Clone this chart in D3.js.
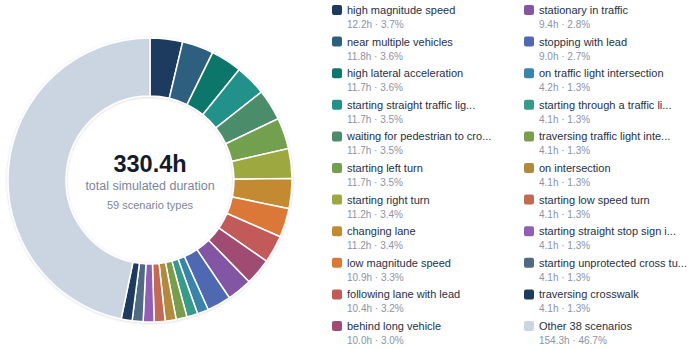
<!DOCTYPE html>
<html>
<head>
<meta charset="utf-8">
<script src="https://cdn.jsdelivr.net/npm/d3@7"></script>
<style>
  body { margin: 0; background: #fff; }
  svg { font-family: "Liberation Sans", Arial, sans-serif; display: block; }
</style>
</head>
<body>
<svg width="691" height="350"></svg>
<script>
// scenario names (as shown, truncated ones keep their ellipsis)
let names = [
  "high magnitude speed", "near multiple vehicles", "high lateral acceleration",
  "starting straight traffic lig...", "waiting for pedestrian to cro...", "starting left turn",
  "starting right turn", "changing lane", "low magnitude speed",
  "following lane with lead", "behind long vehicle",
  "stationary in traffic", "stopping with lead", "on traffic light intersection",
  "starting through a traffic li...", "traversing traffic light inte...", "on intersection",
  "starting low speed turn", "starting straight stop sign i...", "starting unprotected cross tu...",
  "traversing crosswalk", "Other 38 scenarios"
];
// hours
let hours = [12.2, 11.8, 11.7, 11.7, 11.7, 11.7, 11.2, 11.2, 10.9, 10.4, 10.0,
             9.4, 9.0, 4.2, 4.1, 4.1, 4.1, 4.1, 4.1, 4.1, 4.1, 154.3];
// share of total, %
let pct = [3.7, 3.6, 3.6, 3.5, 3.5, 3.5, 3.4, 3.4, 3.3, 3.2, 3.0,
           2.8, 2.7, 1.3, 1.3, 1.3, 1.3, 1.3, 1.3, 1.3, 1.3, 46.7];
let colors = [
  "#1f3a5f", "#2e5f7e", "#0f766b", "#23918a", "#4b8c6b", "#73a050",
  "#9da840", "#c48a30", "#db7838", "#c25a5a", "#a04b71",
  "#8256a5", "#5068b2", "#3a83a9", "#389a89", "#7a9d4d", "#b2893c",
  "#c26a52", "#9160b3", "#4f6a82", "#1f3a5f", "#cbd5e1"
];
let totalLabel = "330.4h";
let typesLabel = "59 scenario types";

let svg = d3.select("svg");

// drop shadow for the ring
let defs = svg.append("defs");
let f = defs.append("filter").attr("id", "shadow")
  .attr("x", "-10%").attr("y", "-10%").attr("width", "120%").attr("height", "120%");
f.append("feDropShadow").attr("dx", 0).attr("dy", 0.5)
  .attr("stdDeviation", 1.2).attr("flood-color", "#0f172a").attr("flood-opacity", 0.18);

let cx = 150, cy = 180;
let outerR = 142, innerR = 84;

let data = names.map((n, i) => ({ name: n, hours: hours[i], pct: pct[i], color: colors[i] }));

let pie = d3.pie().sort(null).value(d => d.hours);
let arc = d3.arc().innerRadius(innerR).outerRadius(outerR);

let donut = svg.append("g")
  .attr("transform", "translate(" + cx + "," + cy + ")")
  .attr("filter", "url(#shadow)");

donut.selectAll("path")
  .data(pie(data))
  .join("path")
  .attr("d", arc)
  .style("fill", d => d.data.color)
  .style("stroke", "#fff")
  .style("stroke-width", 1.5);

// centre labels
let center = svg.append("g").attr("transform", "translate(" + cx + "," + cy + ")");
center.append("text")
  .attr("text-anchor", "middle").attr("y", -8)
  .style("font-size", "23.5px").style("font-weight", "bold").style("fill", "#141b2d")
  .text(totalLabel);
center.append("text")
  .attr("text-anchor", "middle").attr("y", 10)
  .style("font-size", "12.5px").style("fill", "#7c8598")
  .text("total simulated duration");
center.append("text")
  .attr("text-anchor", "middle").attr("y", 28.5)
  .style("font-size", "11px").style("fill", "#7c8598")
  .text(typesLabel);

// legend, two columns of 11
let perCol = 11;
let colX = [332, 524];
let rowY = d3.scaleLinear().domain([0, perCol - 1]).range([10, 326]);

let legend = svg.append("g").selectAll("g")
  .data(data)
  .join("g")
  .attr("transform", (d, i) => "translate(" + colX[Math.floor(i / perCol)] + "," + rowY(i % perCol) + ")");

legend.append("rect")
  .attr("x", 0).attr("y", -5)
  .attr("width", 10).attr("height", 10)
  .attr("rx", 2)
  .style("fill", d => d.color);

legend.append("text")
  .attr("x", 15).attr("y", 4)
  .style("font-size", "11px").style("fill", "#27303f")
  .text(d => d.name);

legend.append("text")
  .attr("x", 15).attr("y", 18)
  .style("font-size", "10px").style("fill", "#8a94a7")
  .text(d => d.hours.toFixed(1) + "h \u00b7 " + d.pct.toFixed(1) + "%");
</script>
</body>
</html>
